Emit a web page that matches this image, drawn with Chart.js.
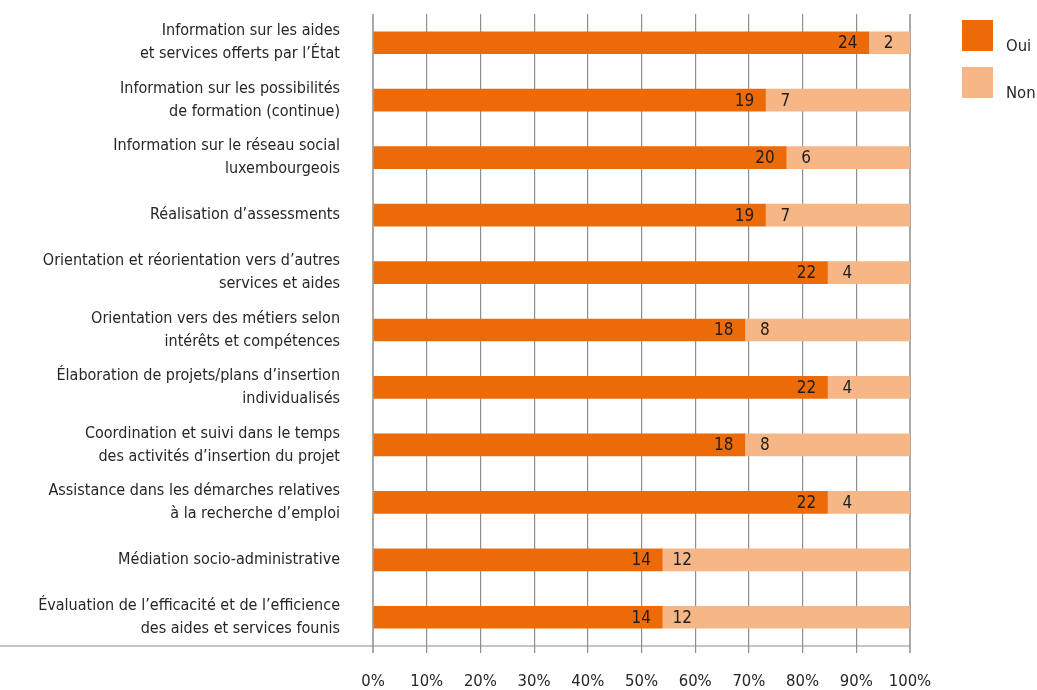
<!DOCTYPE html>
<html>
<head>
<meta charset="utf-8">
<script src="https://cdn.jsdelivr.net/npm/chart.js@4"></script>
<style>
    html, body { margin: 0; padding: 0; background: #fff; }
    #wrap { width: 1037px; height: 690px; position: relative; }
</style>
</head>
<body>
<div id="wrap"><canvas id="servicesChart"></canvas></div>
<script>
// =====================================================
// DATA
// =====================================================
const categories = [
    ['Information sur les aides', 'et services offerts par l’État'],
    ['Information sur les possibilités', 'de formation (continue)'],
    ['Information sur le réseau social', 'luxembourgeois'],
    'Réalisation d’assessments',
    ['Orientation et réorientation vers d’autres', 'services et aides'],
    ['Orientation vers des métiers selon', 'intérêts et compétences'],
    ['Élaboration de projets/plans d’insertion', 'individualisés'],
    ['Coordination et suivi dans le temps', 'des activités d’insertion du projet'],
    ['Assistance dans les démarches relatives', 'à la recherche d’emploi'],
    'Médiation socio-administrative',
    ['Évaluation de l’efficacité et de l’efficience', 'des aides et services founis']
];
const ouiCounts = [24, 19, 20, 19, 22, 18, 22, 18, 22, 14, 14];
const nonCounts = [2, 7, 6, 7, 4, 8, 4, 8, 4, 12, 12];
const seriesNames = ['Oui', 'Non'];
const xTickValues = [0, 10, 20, 30, 40, 50, 60, 70, 80, 90, 100];

// =====================================================
// STYLE
// =====================================================
const FONT_FAMILY = "'DejaVu Sans Condensed', 'DejaVu Sans', sans-serif";
const FONT_SIZE = 16;
const TEXT_COLOR = '#262626';
const GRID_COLOR = '#8e8e8e';
const OUI_COLOR = '#ec6a08';
const NON_COLOR = '#f6b686';

// share of each answer in the row total (bars are stacked to 100%)
const toPct = (arr) => arr.map((v, i) => v / (ouiCounts[i] + nonCounts[i]) * 100);

// Count labels: Oui inside the bar end, Non just after the bar start
const barValues = {
    id: 'barValues',
    afterDatasetsDraw(chart) {
        const ctx = chart.ctx;
        ctx.save();
        ctx.font = '17px ' + FONT_FAMILY;
        ctx.fillStyle = '#1e1e1e';
        ctx.textAlign = 'center';
        ctx.textBaseline = 'middle';
        chart.data.datasets.forEach((ds, i) => {
            chart.getDatasetMeta(i).data.forEach((bar, j) => {
                const x = i === 0 ? bar.x - 21 : bar.base + 20;
                ctx.fillText(String(ds.counts[j]), x, bar.y + 1);
            });
        });
        ctx.restore();
    }
};

// Bottom rule running under the category labels too
const baseline = {
    id: 'baseline',
    afterDraw(chart) {
        const { ctx, chartArea } = chart;
        ctx.save();
        ctx.strokeStyle = GRID_COLOR;
        ctx.lineWidth = 1.2;
        ctx.beginPath();
        ctx.moveTo(0, chartArea.bottom);
        ctx.lineTo(chartArea.right, chartArea.bottom);
        ctx.stroke();
        ctx.restore();
    }
};

// Square swatch legend to the right of the plot
const sideLegend = {
    id: 'sideLegend',
    afterDraw(chart) {
        const { ctx, chartArea } = chart;
        const x = chartArea.right + 52;
        ctx.save();
        ctx.font = '16.5px ' + FONT_FAMILY;
        chart.data.datasets.forEach((ds, i) => {
            const y = 20 + i * 47;
            ctx.fillStyle = ds.backgroundColor;
            ctx.fillRect(x, y, 31, 31);
            ctx.fillStyle = TEXT_COLOR;
            ctx.textAlign = 'left';
            ctx.textBaseline = 'alphabetic';
            ctx.fillText(ds.label, x + 44, y + 31);
        });
        ctx.restore();
    }
};

const ctx = document.getElementById('servicesChart').getContext('2d');
new Chart(ctx, {
    type: 'bar',
    data: {
        labels: categories,
        datasets: [
            {
                label: seriesNames[0],
                data: toPct(ouiCounts),
                counts: ouiCounts,
                backgroundColor: OUI_COLOR,
                barThickness: 22
            },
            {
                label: seriesNames[1],
                data: toPct(nonCounts),
                counts: nonCounts,
                backgroundColor: NON_COLOR,
                barThickness: 22
            }
        ]
    },
    options: {
        indexAxis: 'y',
        responsive: true,
        maintainAspectRatio: false,
        animation: false,
        layout: { padding: { top: 14, right: 127, left: 0, bottom: 0 } },
        plugins: {
            legend: { display: false },
            tooltip: { enabled: false }
        },
        scales: {
            x: {
                stacked: true,
                min: 0,
                max: 100,
                afterBuildTicks: axis => { axis.ticks = xTickValues.map(v => ({ value: v })); },
                afterFit: axis => {
                    axis.height = 44;
                    axis.paddingLeft = 0;
                    axis.paddingRight = 0;
                },
                ticks: {
                    callback: v => v + '%',
                    padding: 19,
                    color: TEXT_COLOR,
                    font: { family: FONT_FAMILY, size: 16.5 },
                    maxRotation: 0
                },
                grid: {
                    color: c => (c.index === 0 || c.index === xTickValues.length - 1) ? '#a9a9a9' : GRID_COLOR,
                    lineWidth: c => (c.index === 0 || c.index === xTickValues.length - 1) ? 2 : 1.2,
                    tickLength: 7
                },
                border: { display: false }
            },
            y: {
                stacked: true,
                afterFit: axis => {
                    axis.width = 373;
                    axis.paddingTop = 0;
                    axis.paddingBottom = 0;
                },
                ticks: {
                    padding: 25,
                    color: TEXT_COLOR,
                    font: { family: FONT_FAMILY, size: FONT_SIZE, lineHeight: 1.44 }
                },
                grid: { display: false },
                border: { display: false }
            }
        }
    },
    plugins: [barValues, baseline, sideLegend]
});
</script>
</body>
</html>
